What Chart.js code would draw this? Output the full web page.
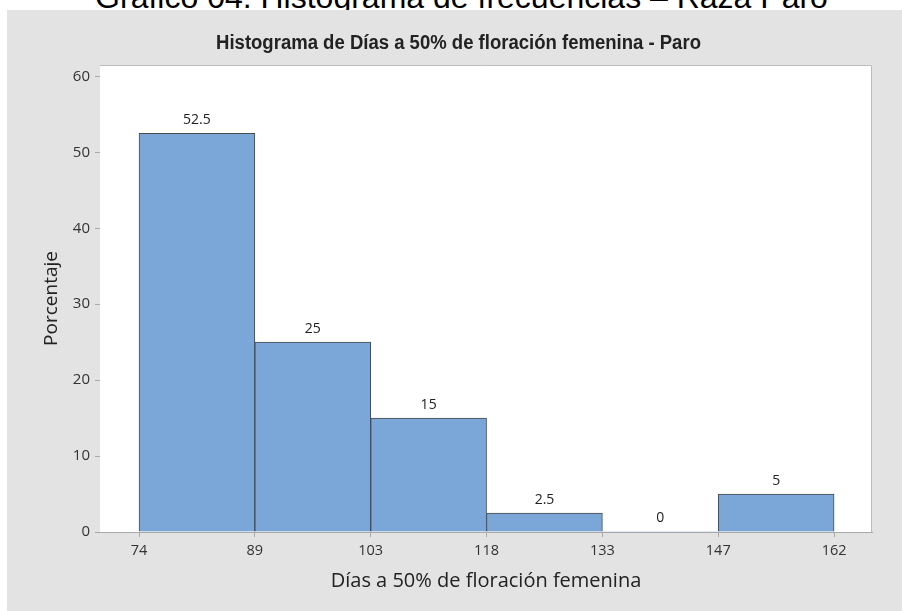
<!DOCTYPE html>
<html>
<head>
<meta charset="utf-8">
<script src="https://cdn.jsdelivr.net/npm/chart.js@4"></script>
<style>
  html, body { margin: 0; padding: 0; background: #fff; overflow: hidden; }
  body { width: 902px; height: 611px; position: relative; }
  #pageTitle {
    position: absolute; left: 0; top: -19.5px; width: 923px;
    text-align: center; font-family: 'Liberation Sans', Arial, sans-serif;
    font-size: 32px; line-height: 32px; color: #000; white-space: nowrap;
  }
  #frame {
    position: absolute; left: 7px; top: 10px; width: 895px; height: 601px;
    background: #e3e3e3;
  }
</style>
</head>
<body>
<div id="pageTitle">Gráfico 04. Histograma de frecuencias – Raza Paro</div>
<div id="frame"><canvas id="chart"></canvas></div>
<script>
// datos del histograma
const chartTitle = 'Histograma de Días a 50% de floración femenina - Paro';
const xTitle = 'Días a 50% de floración femenina';
const yTitle = 'Porcentaje';
const binEdges = [74, 88.667, 103.333, 118, 132.667, 147.333, 162];
const tickLabels = ['74', '89', '103', '118', '133', '147', '162'];
const percents = [52.5, 25, 15, 2.5, 0, 5];
const yTicks = [0, 10, 20, 30, 40, 50, 60];

const axisFont = "'Open Sans', 'Noto Sans', sans-serif";

// cada barra va en el centro de su clase
const bars = percents.map((v, i) => ({ x: (binEdges[i] + binEdges[i + 1]) / 2, y: v }));

// fondo blanco y marco del área de gráfico
const plotFrame = {
  id: 'plotFrame',
  beforeDatasetsDraw(chart) {
    const { ctx, chartArea: a } = chart;
    ctx.save();
    ctx.fillStyle = '#ffffff';
    ctx.fillRect(a.left, a.top, a.right - a.left, a.bottom - a.top);
    ctx.strokeStyle = '#bcbcbc';
    ctx.lineWidth = 1;
    ctx.beginPath();
    ctx.moveTo(a.left, a.top + 0.5);
    ctx.lineTo(a.right - 0.5, a.top + 0.5);
    ctx.lineTo(a.right - 0.5, a.bottom);
    ctx.stroke();
    ctx.restore();
  },
};

// título del gráfico, algo estrecho como en Minitab
const titleText = {
  id: 'titleText',
  afterDraw(chart) {
    const { ctx } = chart;
    ctx.save();
    ctx.font = "bold 19.5px 'Liberation Sans', Arial, sans-serif";
    ctx.fillStyle = '#222';
    ctx.textAlign = 'center';
    ctx.textBaseline = 'alphabetic';
    ctx.translate(451.5, 39);
    ctx.scale(0.95, 1);
    ctx.fillText(chartTitle, 0, 0);
    ctx.restore();
  },
};

// etiquetas de valor encima de cada barra
const barLabels = {
  id: 'barLabels',
  afterDatasetsDraw(chart) {
    const { ctx } = chart;
    const meta = chart.getDatasetMeta(0);
    ctx.save();
    ctx.font = "14px " + axisFont;
    ctx.fillStyle = '#222';
    ctx.textAlign = 'center';
    ctx.textBaseline = 'middle';
    meta.data.forEach((bar, i) => {
      ctx.fillText(String(percents[i]), bar.x, bar.y - 13.5);
    });
    ctx.restore();
  },
};

new Chart(document.getElementById('chart'), {
  type: 'bar',
  data: {
    datasets: [{
      data: bars,
      backgroundColor: '#7ba6d8',
      borderColor: '#4a4a4a',
      borderWidth: ctx => (percents[ctx.dataIndex] === 0 ? 0 : 1),
      barPercentage: 1,
      categoryPercentage: 1,
    }],
  },
  options: {
    responsive: true,
    maintainAspectRatio: false,
    animation: false,
    layout: { padding: { left: 0, right: 30, top: 55, bottom: 0 } },
    plugins: {
      legend: { display: false },
      tooltip: { enabled: false },
      title: { display: false },
    },
    scales: {
      x: {
        type: 'linear',
        min: 69.06,
        max: 166.8,
        offset: false,
        afterBuildTicks: s => { s.ticks = binEdges.map(v => ({ value: v })); },
        afterFit: s => { s.height = 79; },
        ticks: {
          autoSkip: false,
          maxRotation: 0,
          padding: 5,
          color: '#333',
          font: { family: axisFont, size: 14.5 },
          callback: (v, i) => tickLabels[i],
        },
        grid: { offset: false, drawOnChartArea: false, drawTicks: true, tickLength: 5, color: '#a8a8a8' },
        border: { display: true, color: '#a8a8a8' },
        title: {
          display: true,
          text: xTitle,
          color: '#222',
          font: { family: axisFont, size: 20 },
          padding: { top: 0, bottom: 18 },
        },
      },
      y: {
        min: 0,
        max: 61.5,
        afterBuildTicks: s => { s.ticks = yTicks.map(v => ({ value: v })); },
        afterFit: s => { s.width = 93; },
        ticks: {
          padding: 5,
          color: '#333',
          font: { family: axisFont, size: 15 },
        },
        grid: { drawOnChartArea: false, drawTicks: true, tickLength: 5, color: '#a8a8a8' },
        border: { display: true, color: '#a8a8a8' },
        title: {
          display: true,
          text: yTitle,
          color: '#222',
          font: { family: axisFont, size: 19 },
          padding: { top: 33, bottom: 0 },
        },
      },
    },
  },
  plugins: [plotFrame, barLabels, titleText],
});
</script>
</body>
</html>
